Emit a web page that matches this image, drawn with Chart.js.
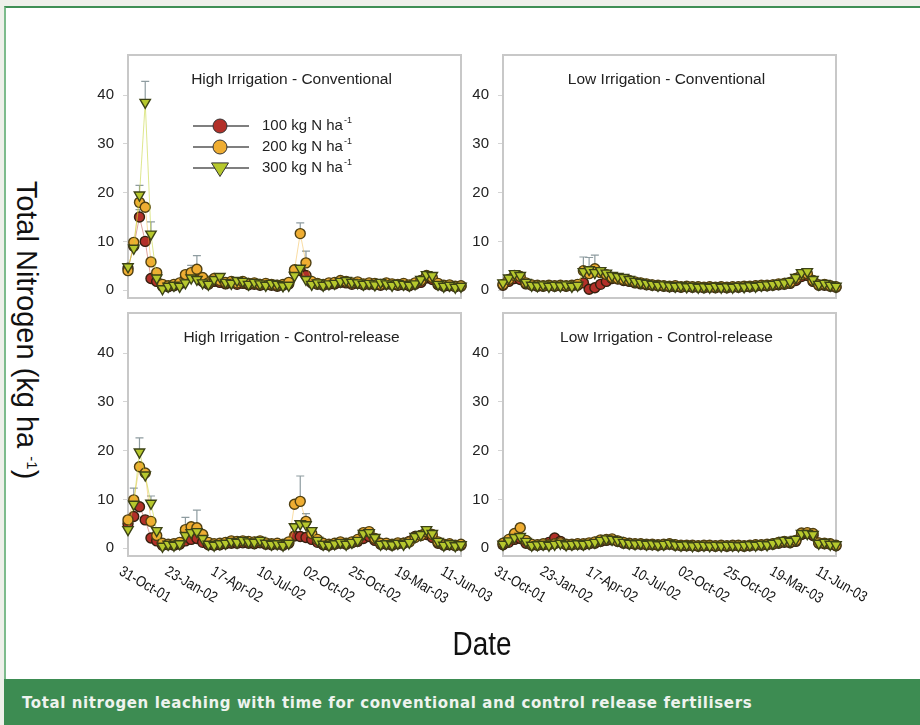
<!DOCTYPE html>
<html>
<head>
<meta charset="utf-8">
<script src="https://cdn.jsdelivr.net/npm/chart.js@4.4.1/dist/chart.umd.min.js"></script>
<style>
  body { margin: 0; width: 920px; height: 725px; overflow: hidden; background: #eef0ea; font-family: "Liberation Sans", Arial, sans-serif; }
  #frame { position: absolute; left: 4px; top: 6px; width: 930px; height: 671px; background: #fff; border-top: 2px solid #3f8f55; border-left: 2px solid #7dbb8c; }
  #caption { position: absolute; left: 4px; top: 679px; width: 916px; height: 46px; background: #3d8c52; color: #eef3ee; font-family: "DejaVu Sans", Verdana, sans-serif; font-weight: bold; font-size: 15px; letter-spacing: 0.6px; line-height: 48px; padding-left: 18px; box-sizing: border-box; white-space: nowrap; }
  canvas { position: absolute; }
  .ytitle { position: absolute; left: 26px; top: 330px; transform: translate(-50%, -50%) rotate(90deg); white-space: nowrap; font-size: 29px; color: #111; }
  .ytitle sup { font-size: 15px; }
  .xtitle { position: absolute; left: 482px; top: 643px; transform: translate(-50%, -50%) scaleX(0.82); font-size: 34px; color: #111; }
</style>
</head>
<body>
<div id="frame"></div>
<canvas id="tl" width="386" height="253" style="left:83px;top:50px"></canvas>
<canvas id="tr" width="386" height="253" style="left:458px;top:50px"></canvas>
<canvas id="bl" width="446" height="333" style="left:83px;top:308px"></canvas>
<canvas id="br" width="446" height="333" style="left:458px;top:308px"></canvas>
<div class="ytitle">Total Nitrogen (kg ha <sup>-1</sup>)</div>
<div class="xtitle">Date</div>
<div id="caption">Total nitrogen leaching with time for conventional and control release fertilisers</div>
<script>
// axis labels
const tickLabels = ['31-Oct-01', '23-Jan-02', '17-Apr-02', '10-Jul-02', '02-Oct-02', '25-Oct-02', '19-Mar-03', '11-Jun-03'];
const labelEvery = 8;
const nPoints = 59;
const categories = Array.from({ length: nPoints }, (_, i) => i % labelEvery === 0 ? tickLabels[i / labelEvery] : '');
const yTicks = [0, 10, 20, 30, 40];
const rates = ['100 kg N ha', '200 kg N ha', '300 kg N ha'];

// High irrigation - conventional
const hiConv100 = [4.5, 9.0, 15.0, 10.0, 2.4, 1.8, 0.8, 0.7, 0.9, 1.2, 2.6, 3.0, 2.8, 1.8, 1.2, 1.8, 1.6, 1.3, 1.5, 1.2, 1.4, 1.1, 1.2, 1.0, 1.1, 1.0, 0.8, 1.0, 1.3, 3.8, 4.0, 3.0, 1.5, 1.2, 1.0, 1.2, 1.3, 1.6, 1.5, 1.2, 1.4, 1.1, 1.2, 1.1, 1.0, 1.2, 1.1, 1.0, 1.1, 0.9, 1.2, 1.6, 2.5, 2.2, 1.1, 0.8, 0.9, 0.7, 0.8];
const hiConv200 = [4.0, 9.8, 18.0, 17.0, 5.8, 3.6, 1.2, 0.9, 1.2, 1.5, 3.2, 3.6, 4.3, 2.6, 1.5, 2.4, 2.0, 1.6, 1.8, 1.5, 1.8, 1.4, 1.5, 1.2, 1.4, 1.2, 1.0, 1.2, 1.6, 4.2, 11.6, 5.6, 1.8, 1.4, 1.2, 1.5, 1.6, 2.0, 1.8, 1.5, 1.7, 1.3, 1.5, 1.4, 1.2, 1.5, 1.3, 1.2, 1.4, 1.1, 1.5, 2.0, 3.0, 2.6, 1.4, 1.0, 1.1, 0.8, 0.9];
const hiConv300 = [4.8, 8.6, 19.5, 38.5, 11.5, 2.5, 0.3, 0.8, 1.0, 0.8, 1.5, 2.5, 2.2, 1.5, 1.2, 2.2, 2.8, 1.6, 1.4, 2.0, 1.8, 1.2, 1.6, 1.3, 1.0, 1.4, 1.2, 0.9, 1.0, 3.0, 4.5, 2.2, 1.2, 1.5, 1.0, 1.3, 1.4, 1.8, 2.0, 1.6, 1.5, 1.2, 1.4, 1.1, 1.6, 1.3, 1.0, 1.4, 1.2, 1.0, 1.3, 2.2, 3.2, 3.0, 1.2, 0.8, 1.0, 0.6, 0.8];

// Low irrigation - conventional
const loConv100 = [1.0, 1.8, 2.4, 2.2, 1.3, 1.0, 0.8, 0.8, 0.9, 0.8, 0.9, 0.8, 0.9, 1.0, 1.5, 0.2, 0.5, 1.2, 1.8, 2.4, 2.3, 2.0, 1.8, 1.5, 1.3, 1.1, 1.0, 0.9, 0.8, 0.7, 0.7, 0.6, 0.7, 0.6, 0.6, 0.5, 0.6, 0.5, 0.6, 0.5, 0.6, 0.6, 0.7, 0.7, 0.8, 0.9, 0.9, 1.0, 1.1, 1.2, 1.4, 2.0, 2.8, 3.0, 1.8, 1.0, 1.0, 0.8, 0.6];
const loConv200 = [1.2, 2.2, 3.0, 2.8, 1.5, 1.1, 1.0, 0.9, 1.0, 0.9, 1.0, 0.9, 1.0, 1.2, 4.0, 3.4, 4.4, 3.6, 3.2, 2.6, 2.4, 2.2, 2.0, 1.7, 1.5, 1.3, 1.1, 1.0, 0.9, 0.8, 0.9, 0.7, 0.8, 0.7, 0.7, 0.6, 0.7, 0.6, 0.7, 0.6, 0.7, 0.7, 0.8, 0.8, 0.9, 1.0, 1.0, 1.1, 1.3, 1.4, 1.6, 2.4, 3.2, 3.4, 2.0, 1.1, 1.2, 0.9, 0.7];
const loConv300 = [1.5, 2.5, 3.4, 3.0, 1.6, 1.0, 0.9, 1.1, 0.8, 1.0, 0.9, 1.1, 0.8, 1.0, 3.8, 4.2, 3.6, 4.0, 3.5, 3.0, 2.8, 2.6, 2.2, 1.8, 1.6, 1.4, 1.2, 1.0, 1.1, 0.9, 0.8, 0.9, 0.7, 0.8, 0.6, 0.7, 0.6, 0.8, 0.6, 0.7, 0.6, 0.8, 0.7, 0.9, 0.8, 1.0, 1.1, 1.2, 1.4, 1.5, 1.8, 2.6, 3.6, 3.8, 2.2, 1.2, 1.4, 1.0, 0.8];

// High irrigation - control-release
const hiCtrl100 = [5.0, 6.5, 8.5, 5.8, 2.1, 1.5, 0.6, 0.7, 0.6, 0.8, 1.5, 1.8, 2.0, 1.2, 0.7, 0.6, 0.7, 0.9, 1.0, 1.0, 1.1, 1.0, 0.9, 1.1, 0.8, 0.7, 0.8, 0.6, 1.0, 2.5, 2.4, 2.2, 1.8, 1.2, 0.7, 0.6, 0.8, 1.0, 0.8, 1.1, 1.4, 2.0, 2.4, 1.6, 0.8, 0.8, 0.6, 0.9, 1.0, 1.4, 2.4, 2.6, 2.8, 2.2, 1.0, 0.6, 0.7, 0.5, 0.6];
const hiCtrl200 = [5.8, 9.9, 16.7, 15.4, 5.5, 2.6, 1.0, 0.8, 0.9, 1.2, 3.8, 4.4, 4.2, 2.8, 1.2, 0.9, 1.0, 1.2, 1.5, 1.4, 1.5, 1.4, 1.3, 1.5, 1.1, 0.9, 1.0, 0.8, 1.3, 9.0, 9.6, 5.5, 3.0, 1.8, 1.0, 0.8, 1.0, 1.3, 1.0, 1.3, 1.8, 3.2, 3.4, 2.0, 1.0, 1.0, 0.8, 1.1, 1.0, 1.3, 2.2, 2.6, 3.4, 2.8, 1.3, 0.8, 0.9, 0.6, 0.8];
const hiCtrl300 = [3.8, 9.0, 19.7, 15.0, 9.2, 3.6, 0.4, 0.8, 0.6, 0.9, 2.6, 3.2, 3.4, 2.0, 0.8, 0.6, 0.9, 1.0, 1.4, 1.2, 1.6, 1.3, 1.2, 1.6, 1.0, 0.8, 0.9, 0.6, 1.0, 4.4, 5.0, 4.8, 3.6, 1.6, 0.8, 0.6, 0.9, 1.2, 0.8, 1.2, 1.6, 3.0, 3.2, 2.2, 0.8, 0.9, 0.7, 1.0, 0.8, 1.2, 2.4, 2.8, 3.8, 3.0, 1.4, 0.6, 0.9, 0.5, 0.7];

// Low irrigation - control-release
const loCtrl100 = [0.7, 1.2, 1.8, 2.0, 1.0, 0.6, 0.6, 0.7, 1.2, 2.1, 1.4, 0.7, 0.7, 0.8, 0.7, 0.9, 1.0, 1.4, 1.6, 1.7, 1.4, 1.0, 0.9, 0.8, 0.8, 0.7, 0.7, 0.6, 0.7, 0.8, 0.6, 0.5, 0.5, 0.5, 0.4, 0.5, 0.5, 0.4, 0.5, 0.4, 0.5, 0.5, 0.4, 0.5, 0.6, 0.6, 0.7, 0.8, 1.0, 1.2, 1.1, 1.4, 2.8, 3.0, 2.6, 1.0, 0.9, 0.8, 0.5];
const loCtrl200 = [1.0, 1.8, 3.0, 4.2, 1.6, 0.8, 0.7, 0.9, 0.7, 0.9, 1.1, 0.8, 0.8, 0.9, 0.9, 1.1, 1.3, 1.7, 1.8, 1.9, 1.5, 1.2, 1.0, 0.9, 0.9, 0.8, 0.8, 0.7, 0.8, 0.9, 0.7, 0.6, 0.6, 0.6, 0.5, 0.6, 0.6, 0.5, 0.6, 0.5, 0.6, 0.6, 0.5, 0.6, 0.7, 0.7, 0.8, 0.9, 1.2, 1.4, 1.3, 1.6, 3.1, 3.2, 3.0, 1.1, 1.0, 0.9, 0.6];
const loCtrl300 = [0.8, 1.5, 2.2, 2.4, 1.4, 0.6, 0.7, 0.8, 0.6, 0.8, 1.0, 0.7, 0.8, 0.9, 0.8, 1.0, 1.2, 1.6, 1.9, 1.8, 1.6, 1.2, 1.0, 0.9, 1.0, 0.8, 0.9, 0.7, 0.8, 1.0, 0.7, 0.6, 0.7, 0.5, 0.6, 0.6, 0.5, 0.6, 0.5, 0.6, 0.6, 0.5, 0.6, 0.7, 0.6, 0.8, 0.7, 1.0, 1.3, 1.6, 1.4, 1.8, 3.0, 3.0, 2.8, 1.0, 1.2, 0.8, 0.7];

// upper error bars, [index, error] pairs where they are visible
const hiConvErr = [[[2, 1.5]], [[11, 1.5], [12, 2.8], [30, 2.2], [31, 2.4]], [[2, 2.0], [3, 4.3], [4, 2.5]]];
const loConvErr = [[], [[14, 2.8], [16, 2.8]], [[15, 2.5]]];
const hiCtrlErr = [[], [[1, 2.4], [10, 2.5], [12, 3.6], [30, 5.2], [31, 1.6]], [[2, 2.9], [4, 1.5]]];
const loCtrlErr = [[], [[3, 0.8]], []];

const seriesStyle = [
  { style: 'circle', radius: 5, rot: 0, fill: '#b23029', edge: '#33200f', line: 'rgba(181,50,43,0.45)' },
  { style: 'circle', radius: 5, rot: 0, fill: '#efad32', edge: '#504012', line: 'rgba(242,177,52,0.45)' },
  { style: 'triangle', radius: 6, rot: 180, fill: '#b6c82d', edge: '#3c4216', line: 'rgba(194,212,49,0.55)' }
];

Chart.defaults.font.family = '"Liberation Sans", Arial, sans-serif';
Chart.defaults.color = '#222';

function marker(ctx, s, x, y, r) {
  ctx.beginPath();
  if (s.style === 'circle') {
    ctx.arc(x, y, r, 0, Math.PI * 2);
  } else {
    ctx.moveTo(x - r, y - r * 0.6);
    ctx.lineTo(x + r, y - r * 0.6);
    ctx.lineTo(x, y + r);
    ctx.closePath();
  }
  ctx.fillStyle = s.fill;
  ctx.strokeStyle = '#333';
  ctx.lineWidth = 1;
  ctx.fill();
  ctx.stroke();
}

const panelDecor = {
  id: 'panelDecor',
  beforeDatasetsDraw(chart, args, opts) {
    const { ctx, chartArea: a } = chart;
    ctx.save();
    ctx.strokeStyle = '#c8c8c8';
    ctx.lineWidth = 2;
    ctx.strokeRect(a.left, a.top, a.right - a.left, a.bottom - a.top);
    // error bars
    const ys = chart.scales.y;
    ctx.strokeStyle = '#8e9ca0';
    ctx.lineWidth = 1.2;
    chart.data.datasets.forEach((ds, di) => {
      const meta = chart.getDatasetMeta(di);
      (ds.errors || []).forEach(([i, e]) => {
        const x = meta.data[i].x;
        const y0 = ys.getPixelForValue(ds.data[i]);
        const y1 = ys.getPixelForValue(ds.data[i] + e);
        ctx.beginPath();
        ctx.moveTo(x, y0);
        ctx.lineTo(x, y1);
        ctx.moveTo(x - 4, y1);
        ctx.lineTo(x + 4, y1);
        ctx.stroke();
      });
    });
    ctx.restore();
  },
  afterDraw(chart, args, opts) {
    const { ctx, chartArea: a } = chart;
    ctx.save();
    ctx.fillStyle = '#222';
    ctx.font = '15.5px "Liberation Sans", Arial, sans-serif';
    ctx.textAlign = 'center';
    ctx.textBaseline = 'middle';
    ctx.fillText(opts.title, (a.left + a.right) / 2 - 3, a.top + 25);

    if (opts.legend) {
      rates.forEach((txt, k) => {
        const y = a.top + 71 + k * 21;
        ctx.strokeStyle = '#555';
        ctx.lineWidth = 1.5;
        ctx.beginPath();
        ctx.moveTo(a.left + 65, y);
        ctx.lineTo(a.left + 121, y);
        ctx.stroke();
        marker(ctx, seriesStyle[k], a.left + 92, y, k === 2 ? 8.5 : 7);
        ctx.fillStyle = '#222';
        ctx.textAlign = 'left';
        ctx.font = '15px "Liberation Sans", Arial, sans-serif';
        ctx.fillText(txt, a.left + 134, y);
        const w = ctx.measureText(txt).width;
        ctx.font = '9px "Liberation Sans", Arial, sans-serif';
        ctx.fillText('-1', a.left + 135 + w, y - 5);
      });
    }

    if (opts.dates) {
      const xs = chart.scales.x;
      ctx.font = '15px "Liberation Sans", Arial, sans-serif';
      ctx.fillStyle = '#111';
      ctx.textAlign = 'left';
      ctx.textBaseline = 'top';
      tickLabels.forEach((t, k) => {
        const x = xs.getPixelForValue(k * labelEvery);
        ctx.save();
        ctx.translate(x - 4, a.bottom + 8);
        ctx.rotate(30 * Math.PI / 180);
        ctx.scale(0.85, 1);
        ctx.fillText(t, 0, 0);
        ctx.restore();
      });
    }
    ctx.restore();
  }
};

function makePanel(id, title, s100, s200, s300, errs, legend, dates) {
  const series = [s100, s200, s300];
  new Chart(document.getElementById(id), {
    type: 'line',
    data: {
      labels: categories,
      datasets: series.map((d, k) => ({
        label: rates[k],
        data: d,
        errors: errs[k],
        order: 3 - k,
        borderColor: seriesStyle[k].line,
        borderWidth: 1,
        pointStyle: seriesStyle[k].style,
        pointRotation: seriesStyle[k].rot,
        pointRadius: seriesStyle[k].radius,
        pointBackgroundColor: seriesStyle[k].fill,
        pointBorderColor: seriesStyle[k].edge,
        pointBorderWidth: 1.4,
        clip: false
      }))
    },
    options: {
      responsive: false,
      animation: false,
      devicePixelRatio: 1,
      layout: { autoPadding: false, padding: { left: 0, top: 5, right: dates ? 68 : 8, bottom: dates ? 85 : 5 } },
      plugins: {
        legend: { display: false },
        tooltip: { enabled: false },
        panelDecor: { title: title, legend: legend, dates: dates }
      },
      scales: {
        x: { display: false, offset: false },
        y: {
          min: -1.6,
          max: 48.2,
          afterBuildTicks: s => { s.ticks = yTicks.map(v => ({ value: v })); },
          afterFit: s => { s.width = 45; s.paddingTop = 0; s.paddingBottom = 0; },
          border: { display: false },
          grid: { drawOnChartArea: false, tickLength: 5, color: '#d4d4d4' },
          ticks: { padding: 9, font: { size: 15 }, color: '#222' }
        }
      }
    },
    plugins: [panelDecor]
  });
}

makePanel('tl', 'High Irrigation - Conventional', hiConv100, hiConv200, hiConv300, hiConvErr, true, false);
makePanel('tr', 'Low Irrigation - Conventional', loConv100, loConv200, loConv300, loConvErr, false, false);
makePanel('bl', 'High Irrigation - Control-release', hiCtrl100, hiCtrl200, hiCtrl300, hiCtrlErr, false, true);
makePanel('br', 'Low Irrigation - Control-release', loCtrl100, loCtrl200, loCtrl300, loCtrlErr, false, true);
</script>
</body>
</html>
